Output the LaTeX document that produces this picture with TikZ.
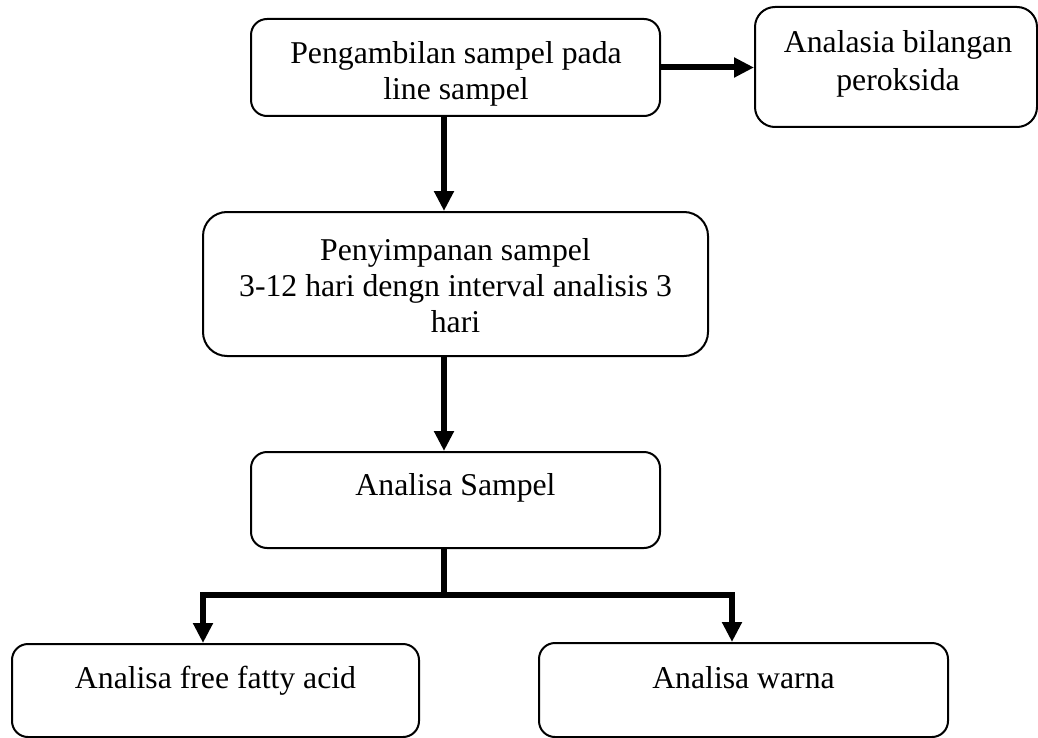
\documentclass[tikz,border=0pt]{standalone}
\usepackage{fontspec}
\setmainfont{Liberation Serif}
\usetikzlibrary{arrows.meta}
\tikzset{bigtip/.tip={Triangle[length=15pt,width=14.25pt]}}
\begin{document}
\begin{tikzpicture}[x=0.75pt,y=-0.75pt,
  flowbox/.style={draw=black, line width=1.5pt, inner sep=0pt, fill=white},
  lbl/.style={anchor=base, inner sep=0pt, font=\fontsize{23.8pt}{27.4pt}\selectfont},
  conn/.style={draw=black, line width=4.5pt, line join=miter}
]
\useasboundingbox (0,0) rectangle (1038,738);
% boxes
\node[flowbox, rounded corners=12pt, minimum width=306.75pt, minimum height=72.75pt] (b1) at (455.5,67.5) {};
\node[flowbox, rounded corners=15pt, minimum width=211.5pt, minimum height=90pt] (b2) at (896,67) {};
\node[flowbox, rounded corners=18pt, minimum width=378.75pt, minimum height=108pt] (b3) at (455.5,284) {};
\node[flowbox, rounded corners=12pt, minimum width=306.75pt, minimum height=72pt] (b4) at (455.5,500) {};
\node[flowbox, rounded corners=12pt, minimum width=305.25pt, minimum height=69.75pt] (b5) at (215.5,690.5) {};
\node[flowbox, rounded corners=12pt, minimum width=306.75pt, minimum height=70.5pt] (b6) at (743.5,690) {};
% texts
\node[lbl] (t1a) at (456,64) {Pengambilan sampel pada};
\node[lbl] (t1b) at (456,100) {line sampel};
\node[lbl] (t2a) at (898,53) {Analasia bilangan};
\node[lbl] (t2b) at (898,91) {peroksida};
\node[lbl] (t3a) at (455.5,260) {Penyimpanan sampel};
\node[lbl] (t3b) at (455.5,296) {3-12 hari dengn interval analisis 3};
\node[lbl] (t3c) at (455.5,332) {hari};
\node[lbl] (t4) at (455.5,495) {Analisa Sampel};
\node[lbl] (t5) at (215.5,688) {Analisa free fatty acid};
\node[lbl] (t6) at (743.5,688) {Analisa warna};
% connectors
\coordinate (cx) at (444,0);
\coordinate (jl) at (203,595);
\coordinate (jr) at (732,595);
\draw[conn,-bigtip] (b1.east) -- (b1.east -| b2.west);
\draw[conn,-bigtip] (b1.south -| cx) -- (b3.north -| cx);
\draw[conn,-bigtip] (b3.south -| cx) -- (b4.north -| cx);
\draw[conn] (b4.south -| cx) -- (cx |- jl);
\draw[conn,bigtip-bigtip] (b5.north -| jl) -- (jl) -- (jr) -- (b6.north -| jr);
\end{tikzpicture}
\end{document}
